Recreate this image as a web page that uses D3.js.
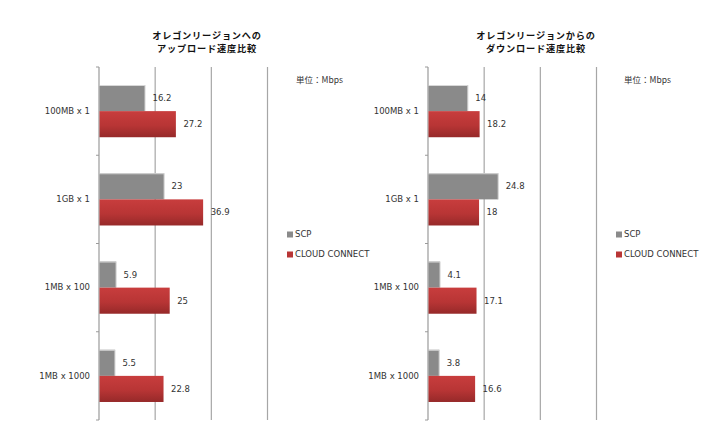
<!DOCTYPE html>
<html><head><meta charset="utf-8">
<script src="https://cdn.jsdelivr.net/npm/d3@7/dist/d3.min.js"></script>
<style>body{margin:0;background:#fff}svg{display:block}</style>
</head><body>
<svg id="c" width="720" height="446"></svg>
<script>
const categories = ["100MB x 1","1GB x 1","1MB x 100","1MB x 1000"];
const seriesNames = ["SCP","CLOUD CONNECT"];
const uploadSCP = [16.2,23,5.9,5.5];
const uploadCC = [27.2,36.9,25,22.8];
const downloadSCP = [14,24.8,4.1,3.8];
const downloadCC = [18.2,18,17.1,16.6];
const xTicks = [0,20,40,60];
const unitLabel = "単位：Mbps";
const titles = [["オレゴンリージョンへの","アップロード速度比較"],["オレゴンリージョンからの","ダウンロード速度比較"]];

const svg = d3.select("#c");
const defs = svg.append("defs");
const rg = defs.append("linearGradient").attr("id","redg").attr("x1",0).attr("y1",0).attr("x2",0).attr("y2",1);
rg.append("stop").attr("offset","0%").attr("stop-color","#c83d3d");
rg.append("stop").attr("offset","55%").attr("stop-color","#b83535");
rg.append("stop").attr("offset","100%").attr("stop-color","#962929");

const panels = [
  {x0:99, scp:uploadSCP, cc:uploadCC, title:titles[0], tcx:207, unitX:296, legX:287},
  {x0:428, scp:downloadSCP, cc:downloadCC, title:titles[1], tcx:536, unitX:624, legX:616}
];
const plotTop = 67, plotBottom = 420;
const font = "'DejaVu Sans', Verdana, sans-serif";

panels.forEach(p => {
  const g = svg.append("g");
  const x = d3.scaleLinear().domain([0,60]).range([p.x0, p.x0 + 168.5]);
  const y = d3.scaleBand().domain(categories).range([plotTop, plotBottom]).padding(0);
  const ys = d3.scaleBand().domain([0,1]).range([0, y.bandwidth()]).paddingInner(0).paddingOuter(0.69);

  g.selectAll(".grid").data(xTicks.slice(1)).join("line")
    .attr("x1", d=>x(d)).attr("x2", d=>x(d)).attr("y1", plotTop).attr("y2", plotBottom)
    .attr("stroke","#a6a6a6").attr("stroke-width",1.2);

  const ax = g.append("g").attr("transform",`translate(${p.x0},0)`)
    .call(d3.axisLeft(y).tickSize(0).tickPadding(9));
  ax.select(".domain").attr("stroke","#9a9a9a").attr("stroke-width",1.2).attr("d",`M0,${plotTop}V${plotBottom}`);
  ax.selectAll("text").attr("font-family",font).attr("font-size","8.5px").attr("fill","#333");
  const bounds = categories.map(c=>y(c)).concat([plotBottom]);
  g.selectAll(".bt").data(bounds).join("line")
    .attr("x1",p.x0-3).attr("x2",p.x0).attr("y1",d=>d).attr("y2",d=>d)
    .attr("stroke","#9a9a9a").attr("stroke-width",1);

  const rows = categories.map((c,i)=>({c, v:[p.scp[i], p.cc[i]]}));
  rows.forEach(r => {
    r.v.forEach((v,si) => {
      const yy = y(r.c) + ys(si);
      const h = ys.bandwidth();
      g.append("rect").attr("x", x(0)+0.5).attr("y", yy).attr("width", x(v)-x(0)).attr("height", h)
        .attr("fill", si===0 ? "#8a8a8a" : "url(#redg)");
      if (si===0) {
        g.append("line").attr("x1",x(0)+0.5).attr("x2",x(v)+0.5).attr("y1",yy+0.5).attr("y2",yy+0.5)
          .attr("stroke","#d8d8d8").attr("stroke-width",1);
        g.append("line").attr("x1",x(v)+0.5).attr("x2",x(v)+0.5).attr("y1",yy).attr("y2",yy+h)
          .attr("stroke","#d0d0d0").attr("stroke-width",1);
      }
      g.append("text").attr("x", x(v)+8).attr("y", yy + h/2).attr("dy","0.35em")
        .attr("font-family",font).attr("font-size","8.5px").attr("fill","#333").text(v);
    });
  });

  p.title.forEach((t,i)=>{
    g.append("text").attr("x",p.tcx).attr("y",38.5 + i*13.5).attr("text-anchor","middle")
      .attr("font-family","'Noto Sans CJK JP', sans-serif").attr("font-weight","bold")
      .attr("font-size","9.2px").attr("letter-spacing","0.8px").attr("fill","#111").text(t);
  });
  g.append("text").attr("x",p.unitX).attr("y",83).attr("font-family","'Noto Sans CJK JP', 'DejaVu Sans', sans-serif")
    .attr("font-size","8.5px").attr("fill","#333").text(unitLabel);
  seriesNames.forEach((s,i)=>{
    const ly = 231.5 + i*20;
    g.append("rect").attr("x",p.legX).attr("y",ly).attr("width",6).attr("height",6)
      .attr("fill", i===0 ? "#8a8a8a" : "#b83535");
    g.append("text").attr("x",p.legX+8).attr("y",ly+3).attr("dy","0.35em")
      .attr("font-family",font).attr("font-size","8.5px").attr("fill","#333").text(s);
  });
});
</script>
</body></html>
